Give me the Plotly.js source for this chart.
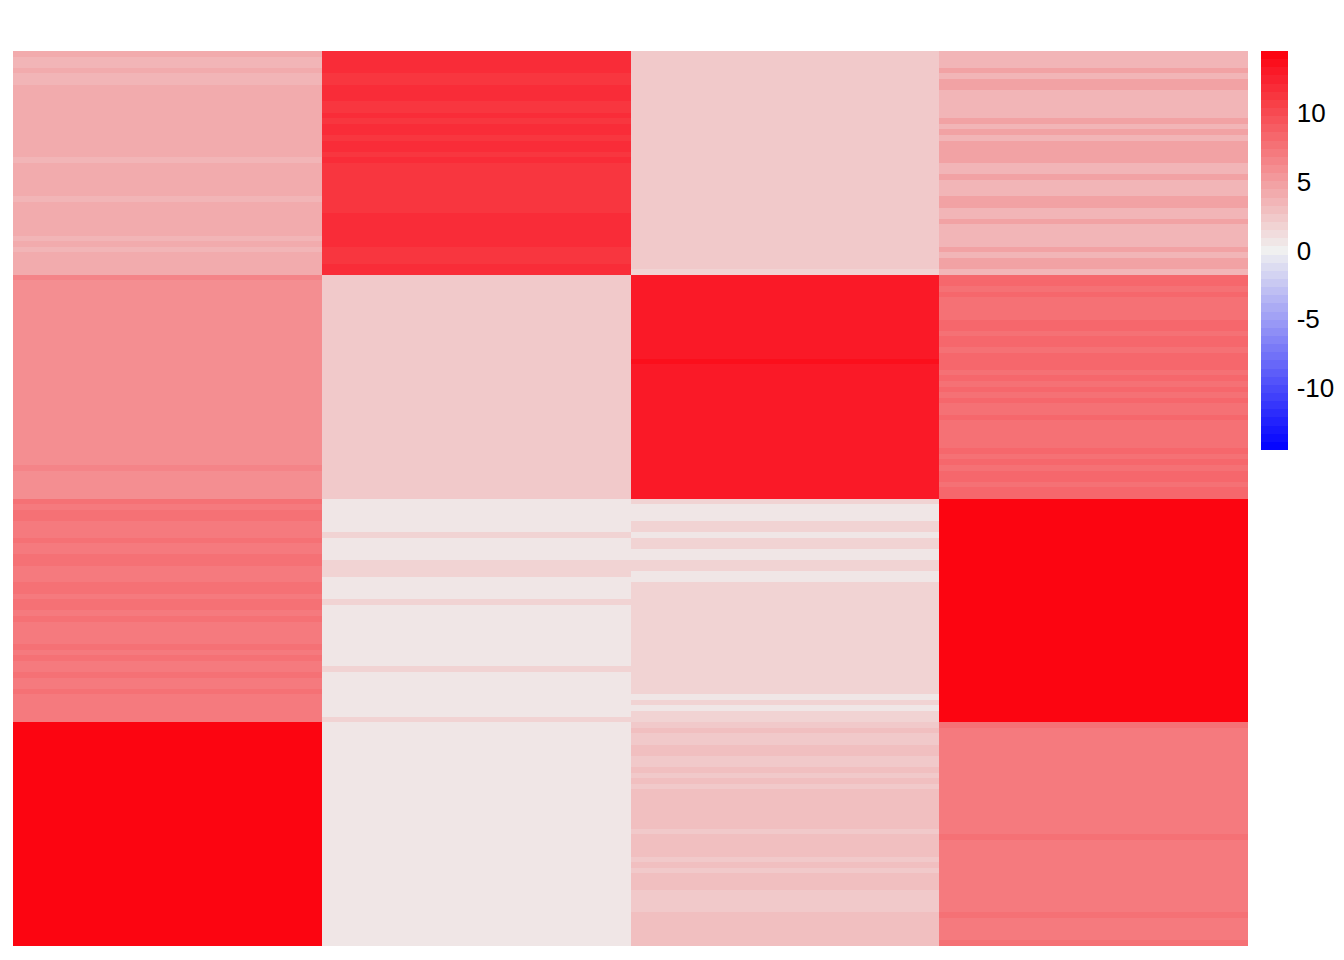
<!DOCTYPE html>
<html>
<head>
<meta charset="utf-8">
<script src="https://cdn.plot.ly/plotly-3.0.1.min.js"></script>
<style>html,body{margin:0;padding:0;background:#fff;}#chart{width:1344px;height:960px;}</style>
</head>
<body>
<div id="chart"></div>
<script>
// Column 1 values, four blocks of 40 rows (top to bottom)
const col1_b1 = [4.3,3.6,3.6,4.3,3.6,3.6,4.3,4.3,4.3,4.3, 4.3,4.3,4.3,4.3,4.3,4.3,4.3,4.3,4.3,3.6, 4.3,4.3,4.3,4.3,4.3,4.3,3.6,4.3,4.3,4.3, 4.3,4.3,4.3,3.6,4.3,3.6,4.3,4.3,4.3,4.3];
const col1_b2 = [6.3,5.7,5.7,5.7,5.7,5.7,5.7,5.7,5.7,5.7, 5.7,5.7,5.7,5.7,5.7,5.7,5.7,5.7,5.7,5.7, 5.7,5.7,5.7,5.7,5.7,5.7,5.7,5.7,5.7,5.7, 5.7,5.7,5.7,5.7,6.3,5.7,5.7,5.7,5.7,5.7];
const col1_b3 = [7.7,7.1,7.7,7.7,7.1,7.1,7.1,7.7,7.1,7.1, 7.7,7.7,7.1,7.1,7.1,7.7,7.7,7.1,7.7,7.7, 7.1,7.7,7.1,7.1,7.1,7.1,7.7,7.1,7.7,7.1, 7.1,7.7,7.1,7.1,7.7,7.1,7.1,7.1,7.1,7.1];
const col1_b4 = [14.5,14.5,14.5,14.5,14.5,14.5,14.5,14.5,14.5,14.5, 14.5,14.5,14.5,14.5,14.5,14.5,14.5,14.5,14.5,14.5, 14.5,14.5,14.5,14.5,14.5,14.5,14.5,14.5,14.5,14.5, 14.5,14.5,14.5,14.5,14.5,14.5,14.5,14.5,14.5,14.5];

// Column 2
const col2_b1 = [12.0,12.0,12.0,12.0,11.3,11.3,12.0,12.0,12.0,11.3, 11.3,12.0,11.3,12.0,12.0,11.3,12.0,12.0,11.3,12.0, 11.3,11.3,11.3,11.3,11.3,11.3,11.3,11.3,11.3,12.0, 12.0,12.0,12.0,12.0,12.0,11.3,11.3,11.3,12.0,12.0];
const col2_b2 = [2.1,2.1,2.1,2.1,2.1,2.1,2.1,2.1,2.1,2.1, 2.1,2.1,2.1,2.1,2.1,2.1,2.1,2.1,2.1,2.1, 2.1,2.1,2.1,2.1,2.1,2.1,2.1,2.1,2.1,2.1, 2.1,2.1,2.1,2.1,2.1,2.1,2.1,2.1,2.1,2.1];
const col2_b3 = [0.7,0.7,0.7,0.7,0.7,0.7,1.5,0.7,0.7,0.7, 0.7,1.5,1.5,1.5,0.7,0.7,0.7,0.7,1.5,0.7, 0.7,0.7,0.7,0.7,0.7,0.7,0.7,0.7,0.7,0.7, 1.5,0.7,0.7,0.7,0.7,0.7,0.7,0.7,0.7,1.5];
const col2_b4 = [0.7,0.7,0.7,0.7,0.7,0.7,0.7,0.7,0.7,0.7, 0.7,0.7,0.7,0.7,0.7,0.7,0.7,0.7,0.7,0.7, 0.7,0.7,0.7,0.7,0.7,0.7,0.7,0.7,0.7,0.7, 0.7,0.7,0.7,0.7,0.7,0.7,0.7,0.7,0.7,0.7];

// Column 3
const col3_b1 = [2.1,2.1,2.1,2.1,2.1,2.1,2.1,2.1,2.1,2.1, 2.1,2.1,2.1,2.1,2.1,2.1,2.1,2.1,2.1,2.1, 2.1,2.1,2.1,2.1,2.1,2.1,2.1,2.1,2.1,2.1, 2.1,2.1,2.1,2.1,2.1,2.1,2.1,2.1,2.1,1.9];
const col3_b2 = [12.8,12.8,12.8,12.8,12.8,12.8,12.8,12.8,12.8,12.8, 12.8,12.8,12.8,12.8,12.8,13.5,12.8,12.8,12.8,12.8, 12.8,12.8,12.8,12.8,12.8,12.8,12.8,12.8,12.8,12.8, 12.8,12.8,12.8,12.8,12.8,12.8,12.8,12.8,12.8,12.8];
const col3_b3 = [1.5,0.7,0.7,0.7,1.5,1.5,0.7,1.5,1.5,0.7, 0.7,1.5,1.5,0.7,0.7,1.5,1.5,1.5,1.5,1.5, 1.5,1.5,1.5,1.5,1.5,1.5,1.5,1.5,1.5,1.5, 1.5,1.5,1.5,1.5,1.5,0.7,1.5,0.7,1.5,1.5];
const col3_b4 = [2.1,3.0,2.1,2.1,3.0,3.0,2.1,2.1,3.0,2.1, 3.0,2.1,3.0,3.0,3.0,3.0,3.0,3.0,3.0,2.1, 3.0,3.0,3.0,3.0,2.1,3.0,2.1,3.0,3.0,3.0, 2.1,2.1,2.1,2.1,3.0,3.0,3.0,3.0,3.0,3.0];

// Column 4
const col4_b1 = [3.6,3.6,3.6,4.5,3.6,4.5,4.5,3.6,3.6,3.6, 3.6,3.6,4.5,3.6,4.5,3.6,4.5,4.5,4.5,4.5, 3.6,3.6,4.5,3.6,3.6,3.6,4.5,4.5,3.6,3.6, 4.5,3.6,3.6,3.6,3.6,4.5,3.6,4.5,4.5,3.6];
const col4_b2 = [8.4,8.4,7.7,8.4,7.7,7.7,7.7,7.7,8.4,8.4, 7.7,8.4,8.4,7.7,8.4,8.4,8.4,7.7,8.4,7.7, 8.4,7.7,8.4,7.7,7.7,8.4,7.7,7.7,7.7,7.7, 7.7,8.4,7.7,8.4,7.7,8.4,8.4,7.7,8.4,8.4];
const col4_b3 = [14.4,14.4,14.4,14.4,14.4,14.4,14.4,14.4,14.4,14.4, 14.4,14.4,14.4,14.4,14.4,14.4,14.4,14.4,14.4,14.4, 14.4,14.4,14.4,14.4,14.4,14.4,14.4,14.4,14.4,14.4, 14.4,14.4,14.4,14.4,14.4,14.4,14.4,14.4,14.4,14.4];
const col4_b4 = [7.7,7.25,7.25,7.25,7.25,7.25,7.25,7.25,7.25,7.25, 7.25,7.25,7.25,7.25,7.25,7.25,7.25,7.25,7.25,7.25, 7.7,7.25,7.25,7.25,7.25,7.25,7.25,7.25,7.25,7.25, 7.25,7.25,7.25,7.25,7.7,7.25,7.25,7.25,7.25,7.7];

const colorTickVals = [-10, -5, 0, 5, 10];
const colorTickText = ["-10", "-5", "0", "5", "10"];

// assemble
const columns = [
  col1_b1.concat(col1_b2, col1_b3, col1_b4),
  col2_b1.concat(col2_b2, col2_b3, col2_b4),
  col3_b1.concat(col3_b2, col3_b3, col3_b4),
  col4_b1.concat(col4_b2, col4_b3, col4_b4)
];
const nRows = columns[0].length;
const rowIdx = [];
const z = [];
for (let r = 0; r < nRows; r++) {
  rowIdx.push(r);
  z.push(columns.map(c => c[r]));
}
const colIdx = [0, 1, 2, 3];

// stepped blue-grey-red colour scale (49 bands)
const nb = 49;
const negStops = [[0, [240,240,240]], [1, [0,0,255]]];
const posStops = [[0, [240,240,240]], [0.3, [242,168,170]], [0.5, [245,120,124]], [0.75, [248,60,68]], [0.88, [249,29,44]], [1, [253,0,12]]];
function interp(stops, t) {
  for (let i = 1; i < stops.length; i++) {
    if (t <= stops[i][0]) {
      const a = stops[i-1], b = stops[i];
      const f = (t - a[0]) / (b[0] - a[0]);
      return 'rgb(' + a[1].map((v, j) => Math.round(v + (b[1][j] - v) * f)).join(',') + ')';
    }
  }
  return 'rgb(' + stops[stops.length-1][1].join(',') + ')';
}
const cs = [];
for (let k = 0; k < nb; k++) {
  const c = (k + 0.5) / nb;
  const s = (c - 0.5) * 2;
  const col = s < 0 ? interp(negStops, -s) : interp(posStops, s);
  cs.push([k / nb, col]);
  cs.push([(k + 1) / nb, col]);
}

const trace = {
  type: 'heatmap',
  x: colIdx,
  y: rowIdx,
  z: z,
  zmin: -14.5,
  zmax: 14.5,
  colorscale: cs,
  hoverinfo: 'skip',
  colorbar: {
    x: 1.0105, xanchor: 'left', xref: 'paper', xpad: 0,
    y: 1, yanchor: 'top', yref: 'paper', ypad: 0,
    len: 399, lenmode: 'pixels',
    thickness: 27, thicknessmode: 'pixels',
    outlinewidth: 0,
    ticks: 'outside', ticklen: 4, tickcolor: 'rgba(0,0,0,0)',
    tickmode: 'array',
    tickvals: colorTickVals,
    ticktext: colorTickText,
    tickfont: {family: 'Liberation Sans, Arial, sans-serif', size: 26, color: '#000'}
  }
};

const layout = {
  width: 1344, height: 960,
  margin: {l: 13, r: 96, t: 51, b: 14, autoexpand: false},
  paper_bgcolor: '#fff', plot_bgcolor: '#fff',
  xaxis: {showticklabels: false, showgrid: false, zeroline: false, ticks: '', showline: false, range: [-0.5, 3.5]},
  yaxis: {showticklabels: false, showgrid: false, zeroline: false, ticks: '', showline: false, autorange: 'reversed'},
  font: {family: 'Liberation Sans, Arial, sans-serif'}
};

Plotly.newPlot('chart', [trace], layout, {displayModeBar: false, staticPlot: true});
</script>
</body>
</html>
